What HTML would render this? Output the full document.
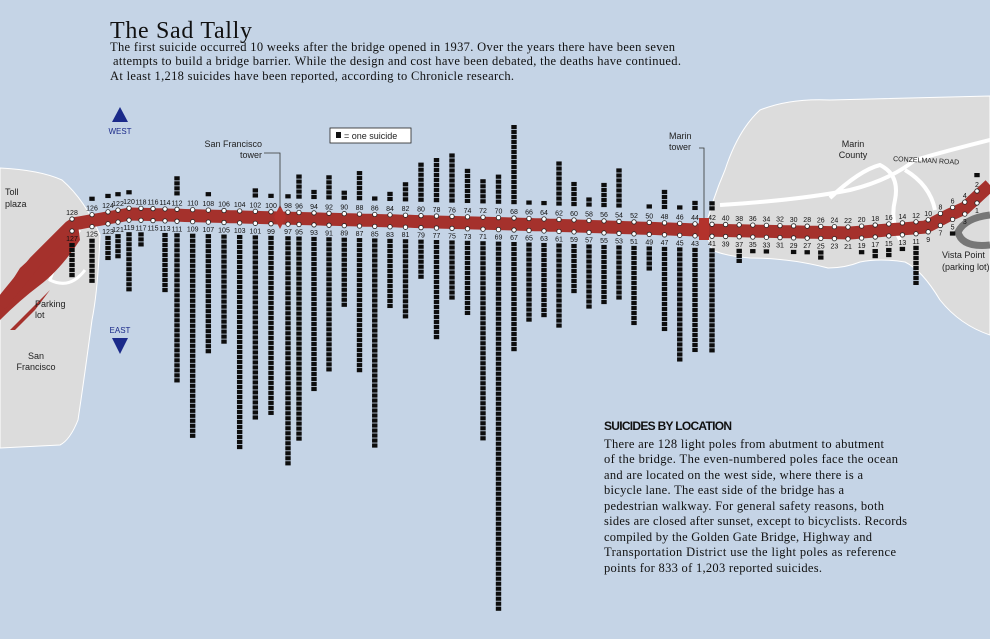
<!DOCTYPE html>
<html><head><meta charset="utf-8"><style>
html,body{margin:0;padding:0;background:#c5d4e6;}
svg{display:block;}
.sm{font-family:"Liberation Sans",sans-serif;font-size:7px;fill:#111;}
.lbl{font-family:"Liberation Sans",sans-serif;font-size:9px;fill:#222;}
.ser{font-family:"Liberation Serif",serif;fill:#111;}
</style></head><body>
<svg id="chart" width="990" height="639" viewBox="0 0 990 639" xmlns="http://www.w3.org/2000/svg">
<rect width="990" height="639" fill="#c5d4e6"/>
<!-- land -->
<path d="M0,168 Q40,170 62,180 Q85,200 100,235 Q98,290 92,320 Q84,380 78,420 Q70,440 60,445 L0,448 Z" fill="#dcdcdc" stroke="#fff" stroke-width="1"/>
<path d="M705,230 Q712,200 725,170 Q738,130 760,110 Q790,98 830,100 L990,96 L990,335 Q960,325 940,300 Q922,270 905,262 Q880,258 860,262 Q845,268 828,268 Q790,258 750,258 Q725,256 712,250 Z" fill="#dcdcdc" stroke="#fff" stroke-width="1"/>
<path d="M720,205 Q800,200 850,190 Q890,180 915,160 Q950,150 990,140 M830,198 Q860,170 880,165 Q900,175 895,200 Q890,220 900,240 M905,170 Q930,185 935,210" fill="none" stroke="#fff" stroke-width="4"/>
<path d="M990,215 Q965,218 958,232 Q962,248 990,245" fill="none" stroke="#777" stroke-width="7"/>
<path d="M80,230 Q60,250 50,280 Q70,290 85,270" fill="none" stroke="#fff" stroke-width="3"/>
<path d="M0,300 L0,320 Q20,300 40,285 Q60,270 80,240 L78,225 Q50,240 20,268 Z M10,330 L40,300 L50,290 L35,310 L15,330Z" fill="#a5312c"/>
<!-- road drawn by script -->
<g id="road"></g>
<g id="bars"></g>
<g id="poles"></g>
<!-- towers -->
<path d="M280,205 L286,217 L280,229 L274,217 Z" fill="#b3322c"/>
<rect x="699" y="218" width="10" height="22" fill="#b3322c"/>
<path d="M264,153 L280,153 L280,208" fill="none" stroke="#333" stroke-width="0.8"/>
<path d="M699,148 L704,148 L704,218" fill="none" stroke="#333" stroke-width="0.8"/>
<text class="lbl" x="262" y="147" text-anchor="end">San Francisco</text>
<text class="lbl" x="262" y="158" text-anchor="end">tower</text>
<text class="lbl" x="669" y="139">Marin</text>
<text class="lbl" x="669" y="150">tower</text>
<!-- legend -->
<rect x="330" y="128" width="81" height="15" fill="#fff" stroke="#222" stroke-width="0.8"/>
<rect x="336" y="132" width="5" height="6" fill="#111"/>
<text class="lbl" x="344" y="139">= one suicide</text>
<!-- directions -->
<path d="M120,107 L128,122 L112,122 Z" fill="#1b2a8a"/>
<text x="120" y="134" text-anchor="middle" style="font-family:'Liberation Sans',sans-serif;font-size:8px;fill:#1b2a8a">WEST</text>
<text x="120" y="333" text-anchor="middle" style="font-family:'Liberation Sans',sans-serif;font-size:8px;fill:#1b2a8a">EAST</text>
<path d="M112,338 L128,338 L120,354 Z" fill="#1b2a8a"/>
<!-- place labels -->
<text class="lbl" x="5" y="195">Toll</text>
<text class="lbl" x="5" y="207">plaza</text>
<text class="lbl" x="35" y="307">Parking</text>
<text class="lbl" x="35" y="318">lot</text>
<text class="lbl" x="36" y="359" text-anchor="middle">San</text>
<text class="lbl" x="36" y="370" text-anchor="middle">Francisco</text>
<text class="lbl" x="853" y="147" text-anchor="middle">Marin</text>
<text class="lbl" x="853" y="158" text-anchor="middle">County</text>
<text x="893" y="161" transform="rotate(3 893 161)" style="font-family:'Liberation Sans',sans-serif;font-size:7px;fill:#222">CONZELMAN ROAD</text>
<text class="lbl" x="942" y="258">Vista Point</text>
<text class="lbl" x="942" y="270">(parking lot)</text>
<!-- title -->
<text class="ser" x="110" y="38" style="font-size:24px" textLength="142">The Sad Tally</text>
<g class="ser" style="font-size:12.5px">
<text x="110" y="51" textLength="565">The first suicide occurred 10 weeks after the bridge opened in 1937. Over the years there have been seven</text>
<text x="113" y="65" textLength="568">attempts to build a bridge barrier. While the design and cost have been debated, the deaths have continued.</text>
<text x="110" y="80" textLength="404">At least 1,218 suicides have been reported, according to Chronicle research.</text>
</g>
<text x="604" y="430" style="font-family:'Liberation Sans',sans-serif;font-size:12px;font-weight:bold;fill:#111" textLength="128">SUICIDES BY LOCATION</text>
<g class="ser" style="font-size:12.5px">
<text x="604" y="448" textLength="280">There are 128 light poles from abutment to abutment</text>
<text x="604" y="463" textLength="294">of the bridge. The even-numbered poles face the ocean</text>
<text x="604" y="479" textLength="259">and are located on the west side, where there is a</text>
<text x="604" y="494" textLength="240">bicycle lane. The east side of the bridge has a</text>
<text x="604" y="510" textLength="280">pedestrian walkway. For general safety reasons, both</text>
<text x="604" y="525" textLength="303">sides are closed after sunset, except to bicyclists. Records</text>
<text x="604" y="541" textLength="268">compiled by the Golden Gate Bridge, Highway and</text>
<text x="604" y="556" textLength="292">Transportation District  use the light poles as reference</text>
<text x="604" y="572" textLength="218">points for 833 of 1,203 reported suicides.</text>
</g>
</svg>
<script>
// West-side (even) poles, from 128 down to 2
const westPoles = [128,126,124,122,120,118,116,114,112,110,108,106,104,102,100,98,96,94,92,90,88,86,84,82,80,78,76,74,72,70,68,66,64,62,60,58,56,54,52,50,48,46,44,42,40,38,36,34,32,30,28,26,24,22,20,18,16,14,12,10,8,6,4,2];
const westCounts = [0,1,1,1,1,0,0,0,4,0,1,0,0,2,1,1,5,2,5,2,6,1,2,4,8,9,10,7,5,6,16,1,1,9,5,2,5,8,0,1,4,1,2,2,0,0,0,0,0,0,0,0,0,0,0,0,0,0,0,0,0,0,0,1];
// East-side (odd) poles, from 127 down to 1
const eastPoles = [127,125,123,121,119,117,115,113,111,109,107,105,103,101,99,97,95,93,91,89,87,85,83,81,79,77,75,73,71,69,67,65,63,61,59,57,55,53,51,49,47,45,43,41,39,37,35,33,31,29,27,25,23,21,19,17,15,13,11,9,7,5,3,1];
const eastCounts = [7,9,5,5,12,3,0,12,30,41,24,22,43,37,36,46,41,31,27,14,27,42,14,16,8,20,12,15,40,74,22,16,15,17,10,13,12,11,16,5,17,23,21,21,0,3,1,1,0,1,1,2,0,0,1,2,2,1,8,0,0,1,0,0];

// axis: pole pair index -> x (nonlinear bridge axis)
const pairAxis = [[1,977],[6,916],[21,712],[22,695],[26,634],[34,514],[42,390],[46,329],[48,299],[49,288],[50,271],[56,177],[60,129],[61,118],[62,108],[63,92],[64,72]];
const roadAxis = [[0,305],[35,262],[73,224],[130,214],[280,218],[514,224],[700,230],[850,233],[926,227],[949,215],[965,208],[977,197],[990,185]];
function interp(tbl,v){
  for(let i=0;i<tbl.length-1;i++){const a=tbl[i],b=tbl[i+1];
    if(v>=a[0]&&v<=b[0])return a[1]+(b[1]-a[1])*(v-a[0])/(b[0]-a[0]);}
  return v<tbl[0][0]?tbl[0][1]:tbl[tbl.length-1][1];
}
function xScale(pole){return interp(pairAxis,Math.ceil(pole/2));}
function roadY(x){return interp(roadAxis,x);}
const NS='http://www.w3.org/2000/svg';
const PITCH=5;
function mk(tag,attrs,parent){const e=document.createElementNS(NS,tag);for(const k in attrs)e.setAttribute(k,attrs[k]);parent.appendChild(e);return e;}

// road
const road=document.getElementById('road');
let d='';for(let x=0;x<=990;x+=5){d+=(x?'L':'M')+x+','+roadY(x).toFixed(1);}
const rp=mk('path',{d:d,fill:'none',stroke:'#a5312c','stroke-width':13},road);



const bars=document.getElementById('bars'),poles=document.getElementById('poles');
function drawSide(list,counts,west){
  list.forEach((p,i)=>{
    const x=xScale(p), ry=roadY(x);
    const cy=west?ry-6:ry+6;
    const c=mk('circle',{cx:x,cy:cy,r:2.2,fill:'#fff',stroke:'#222','stroke-width':0.8},poles);
    
    
    const t=mk('text',{x:x,y:west?cy-4:cy+10,'text-anchor':'middle',class:'sm'},poles);
    t.textContent=p;
    
    
    const n=counts[i];
    if(!n)return;
    const g=mk('g',{},bars);
    
    
    for(let k=0;k<n;k++){
      const y=west?(ry-19-(k+1)*PITCH):(ry+18+k*PITCH);
      mk('rect',{x:x-2.7,y:y,width:5.4,height:4.2,fill:'#0d0d0d'},g);
    }
  });
}
drawSide(westPoles,westCounts,true);
drawSide(eastPoles,eastCounts,false);
</script>
</body></html>
